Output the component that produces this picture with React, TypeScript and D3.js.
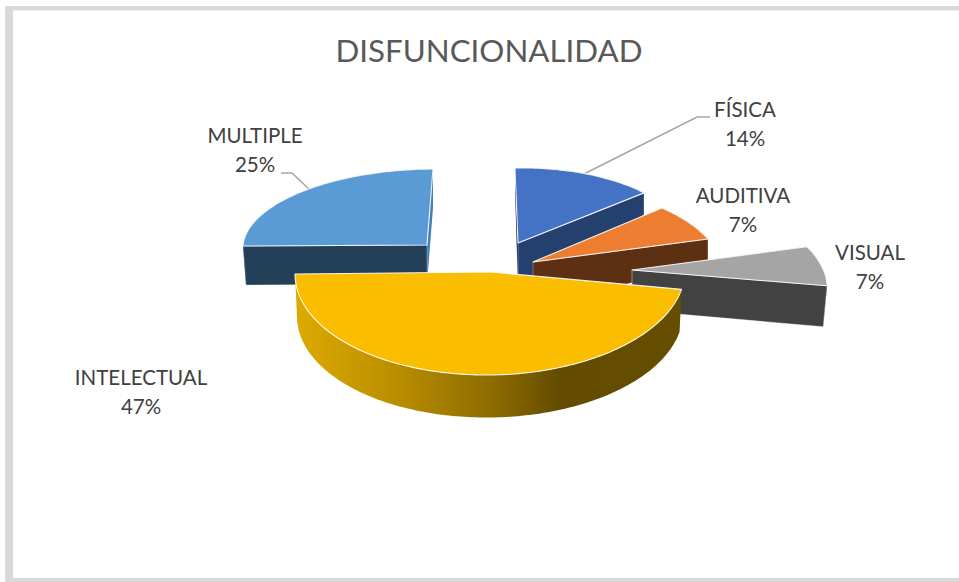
import React from "react";
import * as d3 from "d3";

const categories = ["FÍSICA", "AUDITIVA", "VISUAL", "INTELECTUAL", "MULTIPLE"];
const shares = [14, 7, 7, 47, 25];

const W = 959;
const H = 582;
const FONT = "Lato, 'Open Sans', sans-serif";

// Per-slice oblique projection imitating the spreadsheet's exploded perspective pie.
const projection: Record<string, any> = {
  "FÍSICA": { c: [518, 243], u: [166, -3], v: [-3, -75], rimShift: 0, rimDepth: 22, apexDepth: 45, top: "#4472c4", side: "#23406f", cut: "#14233f", edge: 0.5 },
  "AUDITIVA": { c: [533, 262], u: [186.6, -2.9], v: [-23.2, -81.3], rimShift: 0, rimDepth: 21, apexDepth: 50, top: "#ed7d31", side: "#5e3013", cut: "#5e3013", edge: 0.5 },
  "VISUAL": { c: [632, 270], u: [191, -1], v: [-40, -89.5], rimShift: 4, rimDepth: 41, apexDepth: 40, top: "#a5a5a5", side: "#424242", cut: "#424242", edge: 0.7 },
  "INTELECTUAL": { c: [490, 272], u: [195, -2], v: [0, -103], rimShift: 2, rimDepth: 42.5, apexDepth: 41, top: "#fbbd00", side: "url(#goldSide)", cut: "#5a4500", edge: 0 },
  "MULTIPLE": { c: [427, 245], u: [184, -1], v: [6, -76], rimShift: 3, rimDepth: 39, apexDepth: 39, top: "#5b9bd5", side: "#234058", cut: "#437fb8", edge: 0.5 },
};

const drawOrder = ["MULTIPLE", "FÍSICA", "AUDITIVA", "VISUAL", "INTELECTUAL"];

const labelLayout: Record<string, { x: number; y: number }> = {
  "FÍSICA": { x: 745, y: 117 },
  "AUDITIVA": { x: 743, y: 203 },
  "VISUAL": { x: 870, y: 260 },
  "INTELECTUAL": { x: 141, y: 385 },
  "MULTIPLE": { x: 255, y: 143 },
};

const leaders: Record<string, [number, number][]> = {
  "FÍSICA": [[584, 174], [697, 117], [710, 117]],
  "MULTIPLE": [[310, 190], [292, 173], [281, 173]],
};

const line = d3.line<[number, number]>().x(d => d[0]).y(d => d[1]);

function topPoint(p: any, a: number): [number, number] {
  return [
    p.c[0] + p.u[0] * Math.sin(a) + p.v[0] * Math.cos(a),
    p.c[1] + p.u[1] * Math.sin(a) + p.v[1] * Math.cos(a),
  ];
}
function rimBottom(p: any, a: number): [number, number] {
  const t = topPoint(p, a);
  return [t[0] - p.rimShift * Math.sin(a), t[1] + p.rimDepth];
}
const apex = (p: any): [number, number] => [p.c[0], p.c[1]];
const apexBottom = (p: any): [number, number] => [p.c[0], p.c[1] + p.apexDepth];

function sampleAngles(a0: number, a1: number): number[] {
  const n = Math.max(8, Math.ceil((a1 - a0) / 0.02));
  const s = d3.scaleLinear().domain([0, n]).range([a0, a1]);
  return d3.range(n + 1).map(s);
}

export default function App() {
  const arcs = d3.pie<number>().sort(null).value(d => d)(shares);
  const byName = new Map(categories.map((c, i) => [c, arcs[i]]));

  return (
    <svg
      width={W}
      height={H}
      viewBox={`0 0 ${W} ${H}`}
      style={{ position: "absolute", left: 0, top: 0, display: "block", background: "#fff" }}
    >
      <defs>
        <linearGradient id="goldSide" gradientUnits="userSpaceOnUse" x1={298} x2={682} y1={0} y2={0}>
          <stop offset="0" stopColor="#dcaa00" />
          <stop offset="0.27" stopColor="#b88c00" />
          <stop offset="0.53" stopColor="#886800" />
          <stop offset="0.68" stopColor="#634c00" />
          <stop offset="1" stopColor="#654e00" />
        </linearGradient>
      </defs>

      {/* chart frame */}
      <rect x={5} y={6} width={W} height={4.5} fill="#d9d9d9" />
      <rect x={5} y={6} width={8} height={H} fill="#d9d9d9" />
      <rect x={5} y={578} width={W} height={4} fill="#d9d9d9" />

      <text x={489} y={62} textAnchor="middle" fontFamily={FONT} fontSize={31.3} fill="#595959">
        DISFUNCIONALIDAD
      </text>

      {Object.keys(leaders).map(k => (
        <path key={k} d={line(leaders[k]) || ""} fill="none" stroke="#a6a6a6" strokeWidth={1.6} />
      ))}

      {drawOrder.map(name => {
        const arc = byName.get(name)!;
        const p = projection[name];
        const angles = sampleAngles(arc.startAngle, arc.endAngle);
        const rimTop = angles.map(a => topPoint(p, a));
        const rimBot = angles.map(a => rimBottom(p, a));
        const topPath = line([apex(p), ...rimTop]) + "Z";
        const sidePath = line([...rimTop, ...rimBot.slice().reverse()]) + "Z";
        const startFace = line([apex(p), topPoint(p, arc.startAngle), rimBottom(p, arc.startAngle), apexBottom(p)]) + "Z";
        const endFace = line([apex(p), topPoint(p, arc.endAngle), rimBottom(p, arc.endAngle), apexBottom(p)]) + "Z";
        const isGold = name === "INTELECTUAL";
        const front = name === "MULTIPLE" ? startFace : endFace;
        const back = name === "MULTIPLE" ? endFace : startFace;
        return (
          <g key={name}>
            <path d={sidePath} fill={p.side} />
            {!isGold && <path d={back} fill={p.cut} />}
            {!isGold && (
              <path d={front} fill={p.side} stroke="#fff" strokeOpacity={0.6} strokeWidth={p.edge} />
            )}
            <path d={topPath} fill={p.top} stroke="#ffffff" strokeOpacity={0.9} strokeWidth={1.1} strokeLinejoin="round" />
          </g>
        );
      })}

      {categories.map((c, i) => {
        const l = labelLayout[c];
        return (
          <g key={c} fontFamily={FONT} fontSize={20.5} fill="#404040" textAnchor="middle">
            <text x={l.x} y={l.y}>{c}</text>
            <text x={l.x} y={l.y + 29}>{d3.format("d")(shares[i])}%</text>
          </g>
        );
      })}
    </svg>
  );
}
